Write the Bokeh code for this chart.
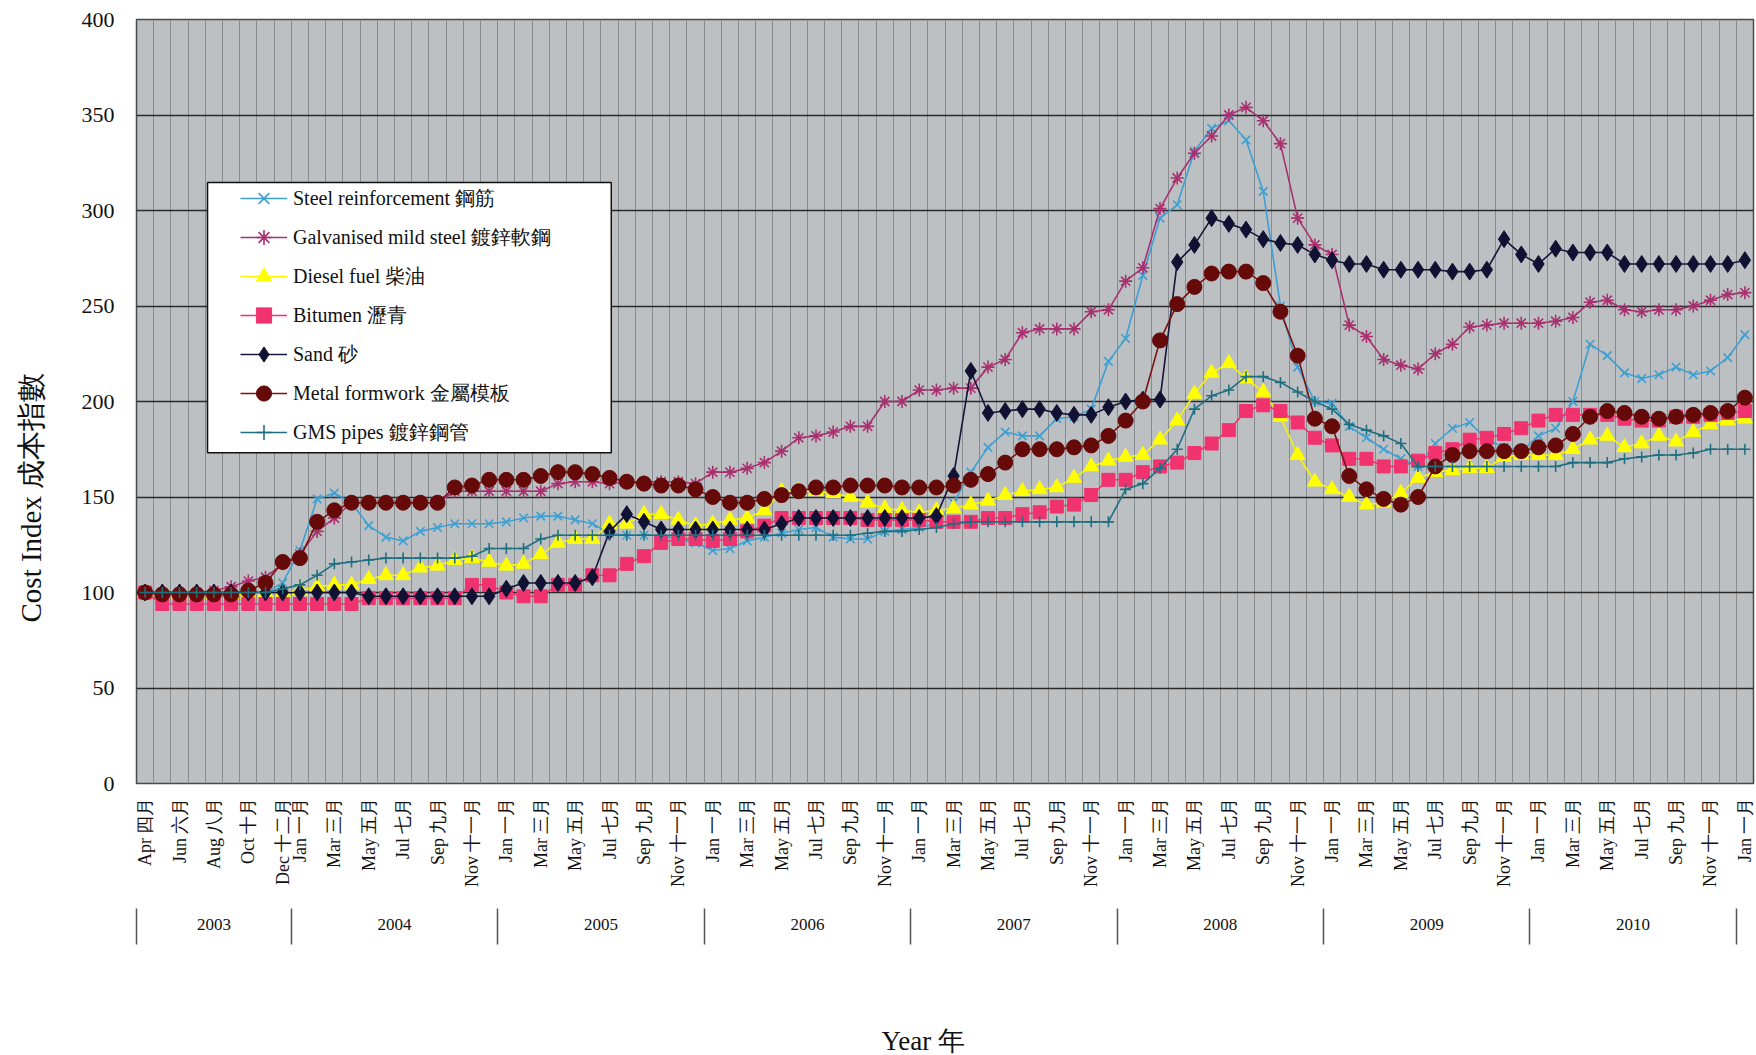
import math
from bokeh.plotting import figure
from bokeh.models import (Range1d, LinearAxis, FixedTicker, Legend, LegendItem,
                          BoxAnnotation, Title)
from bokeh.embed import file_html
from bokeh.resources import INLINE

# ---------------- data (monthly, Apr 2003 .. Jan 2011) ----------------
MONTH_EN = ["Jan", "Feb", "Mar", "Apr", "May", "Jun", "Jul", "Aug", "Sep", "Oct", "Nov", "Dec"]
MONTH_ZH = ["一月", "二月", "三月", "四月", "五月", "六月", "七月", "八月", "九月", "十月", "十一月", "十二月"]
START_MONTH = 3          # April
N_MONTHS = 94            # Apr 2003 .. Jan 2011
years = ["2003", "2004", "2005", "2006", "2007", "2008", "2009", "2010"]

steel = [100, 100, 100, 100, 100, 100, 100, 100, 105, 122,
         149, 152, 147, 135, 129, 127, 132, 134, 136, 136,
         136, 137, 139, 140, 140, 138, 136, 131, 130, 130,
         130, 128, 126, 122, 123, 127, 129, 131, 133, 134,
         129, 128, 128, 132, 133, 134, 136, 147, 163, 176,
         184, 182, 182, 191, 192, 196, 221, 233, 266, 296,
         303, 331, 343, 347, 337, 310, 250, 218, 200, 199,
         187, 181, 175, 170, 166, 178, 186, 189, 180, 176,
         174, 182, 186, 200, 230, 224, 215, 212, 214, 218,
         214, 216, 223, 235]
galvanised = [100, 100, 100, 100, 101, 103, 106, 108, 115, 120,
              132, 139, 147, 147, 147, 147, 147, 147, 153, 153,
              153, 153, 153, 153, 157, 158, 158, 157, 158, 158,
              158, 158, 157, 163, 163, 165, 168, 174, 181, 182,
              184, 187, 187, 200, 200, 206, 206, 207, 207, 218,
              222, 236, 238, 238, 238, 247, 248, 263, 270, 301,
              317, 330, 339, 350, 354, 347, 335, 296, 282, 277,
              240, 234, 222, 219, 217, 225, 230, 239, 240, 241,
              241, 241, 242, 244, 252, 253, 248, 247, 248, 248,
              250, 253, 256, 257]
diesel = [100, 99, 99, 99, 99, 99, 99, 100, 100, 101,
          103, 104, 104, 107, 109, 109, 113, 114, 117, 118,
          116, 114, 115, 120, 126, 128, 128, 136, 136, 141,
          141, 138, 135, 136, 138, 139, 143, 153, 153, 153,
          152, 150, 147, 144, 143, 142, 143, 144, 146, 148,
          151, 153, 154, 155, 160, 166, 169, 171, 172, 180,
          190, 204, 215, 220, 212, 205, 192, 172, 158, 154,
          150, 146, 147, 152, 160, 163, 164, 165, 165, 171,
          172, 172, 172, 175, 180, 182, 176, 178, 182, 179,
          184, 188, 190, 191]
bitumen = [100, 94, 94, 94, 94, 94, 94, 94, 94, 94,
           94, 94, 94, 97, 97, 97, 97, 97, 97, 104,
           104, 100, 98, 98, 104, 104, 109, 109, 115, 119,
           126, 128, 128, 127, 128, 132, 135, 139, 139, 139,
           139, 139, 138, 138, 138, 138, 137, 137, 137, 139,
           139, 141, 142, 145, 146, 151, 159, 159, 163, 166,
           168, 173, 178, 185, 195, 198, 195, 189, 181, 177,
           170, 170, 166, 166, 169, 173, 175, 180, 181, 183,
           186, 190, 193, 193, 193, 193, 191, 190, 190, 192,
           192, 193, 194, 195]
sand = [100, 100, 100, 100, 100, 100, 100, 100, 100, 100,
        100, 100, 100, 98, 98, 98, 98, 98, 98, 98,
        98, 102, 105, 105, 105, 105, 108, 132, 141, 137,
        133, 133, 133, 133, 133, 133, 133, 136, 139, 139,
        139, 139, 139, 139, 139, 139, 140, 161, 216, 194,
        195, 196, 196, 194, 193, 193, 197, 200, 201, 201,
        273, 282, 296, 293, 290, 285, 283, 282, 277, 274,
        272, 272, 269, 269, 269, 269, 268, 268, 269, 285,
        277, 272, 280, 278, 278, 278, 272, 272, 272, 272,
        272, 272, 272, 274]
metal = [100, 99, 99, 99, 99, 99, 101, 105, 116, 118,
         137, 143, 147, 147, 147, 147, 147, 147, 155, 156,
         159, 159, 159, 161, 163, 163, 162, 160, 158, 157,
         156, 156, 154, 150, 147, 147, 149, 151, 153, 155,
         155, 156, 156, 156, 155, 155, 155, 156, 159, 162,
         168, 175, 175, 175, 176, 177, 182, 190, 200, 232,
         251, 260, 267, 268, 268, 262, 247, 224, 191, 187,
         161, 154, 149, 146, 150, 166, 172, 174, 174, 174,
         174, 176, 177, 183, 192, 195, 194, 192, 191, 192,
         193, 194, 195, 202]
gms = [100, 100, 100, 100, 100, 100, 100, 100, 102, 104,
       109, 115, 116, 117, 118, 118, 118, 118, 118, 119,
       123, 123, 123, 128, 130, 130, 130, 130, 130, 130,
       130, 130, 130, 130, 130, 130, 130, 130, 130, 130,
       130, 130, 131, 132, 132, 133, 134, 136, 137, 137,
       137, 137, 137, 137, 137, 137, 137, 154, 157, 165,
       175, 196, 203, 206, 213, 213, 210, 205, 200, 196,
       188, 185, 182, 178, 166, 166, 166, 166, 166, 166,
       166, 166, 166, 168, 168, 168, 170, 171, 172, 172,
       173, 175, 175, 175]

series_names = ["Steel reinforcement 鋼筋", "Galvanised mild steel 鍍鋅軟鋼", "Diesel fuel 柴油",
                "Bitumen 瀝青", "Sand 砂", "Metal formwork 金屬模板", "GMS pipes 鍍鋅鋼管"]
series_values = [steel, galvanised, diesel, bitumen, sand, metal, gms]

# ---------------- styles ----------------
styles = [
    dict(color="#3d9fd2", marker="x", size=12, fill="#3d9fd2"),
    dict(color="#a8306f", marker="asterisk", size=13, fill="#a8306f"),
    dict(color="#f5f500", marker="triangle", size=15, fill="#ffff00"),
    dict(color="#f0336f", marker="square", size=13, fill="#f0336f"),
    dict(color="#15153a", marker="diamond", size=17, fill="#111133"),
    dict(color="#7a1212", marker="circle", size=15, fill="#650909"),
    dict(color="#1f6f80", marker="cross", size=11, fill="#1f6f80"),
]

SERIF = "Liberation Serif"

x = list(range(N_MONTHS))

p = figure(width=1755, height=1055,
           x_range=Range1d(-0.5, N_MONTHS - 0.5), y_range=Range1d(0, 400),
           output_backend="svg", toolbar_location=None,
           min_border_left=136, min_border_right=2, min_border_top=19, min_border_bottom=267,
           background_fill_color="#bcc0c3", border_fill_color="white",
           outline_line_color="#4a4a4a", outline_line_width=1.5)
p.extra_x_ranges = {"years": Range1d(-1, 2 * N_MONTHS - 1)}

# month tick labels
label_idx = [0, 2, 4, 6, 8] + list(range(9, N_MONTHS, 2))
overrides = {}
for i in label_idx:
    m = (START_MONTH + i) % 12
    overrides[i] = MONTH_EN[m] + " " + MONTH_ZH[m]

xa = p.xaxis[0]
xa.ticker = FixedTicker(ticks=label_idx, minor_ticks=[])
xa.major_label_overrides = overrides
xa.major_label_orientation = math.pi / 2
xa.major_label_text_font = SERIF
xa.major_label_text_font_size = "18px"
xa.major_label_text_color = "#111111"
xa.major_label_standoff = 14
xa.major_tick_in = 0
xa.major_tick_out = 0
xa.minor_tick_in = 0
xa.minor_tick_out = 0
xa.axis_line_color = None

ya = p.yaxis[0]
ya.ticker = FixedTicker(ticks=list(range(0, 401, 50)), minor_ticks=[])
ya.major_label_text_font = SERIF
ya.major_label_text_font_size = "22px"
ya.major_label_text_color = "#111111"
ya.major_label_standoff = 22
ya.major_tick_in = 0
ya.major_tick_out = 0
ya.minor_tick_in = 0
ya.minor_tick_out = 0
ya.axis_line_color = None

# grids
p.xgrid.ticker = FixedTicker(ticks=[i + 0.5 for i in range(-1, N_MONTHS)])
p.xgrid.grid_line_color = "#878c90"
p.xgrid.grid_line_width = 1
p.ygrid.ticker = FixedTicker(ticks=list(range(50, 400, 50)))
p.ygrid.grid_line_color = "#2a2a2a"
p.ygrid.grid_line_width = 1.6

# year axis
year_centers = []
year_seps = [-1]
start = -1
for k, yname in enumerate(years):
    n = 9 if k == 0 else 12
    end = start + 2 * n
    year_centers.append((start + end) // 2)
    year_seps.append(end)
    start = end
yax = LinearAxis(x_range_name="years",
                 ticker=FixedTicker(ticks=year_centers, minor_ticks=year_seps),
                 major_label_overrides={c: yname for c, yname in zip(year_centers, years)},
                 axis_line_color=None, major_tick_in=0, major_tick_out=0,
                 minor_tick_in=-19, minor_tick_out=55,
                 minor_tick_line_color="#555555", minor_tick_line_width=1.5,
                 major_label_standoff=-26,
                 major_label_text_font=SERIF, major_label_text_font_size="17px",
                 major_label_text_color="#111111")
p.add_layout(yax, "below")

# x axis title: spacer then the title (slightly left of the frame centre, as in the original)
xspacer = Title(text="\u00a0", standoff=88, text_font=SERIF, text_font_size="1px",
                text_font_style="normal", text_color="white")
p.add_layout(xspacer, "below")
xtitle = Title(text="Year 年", align="left", offset=745, standoff=0,
               text_font=SERIF, text_font_size="27px", text_font_style="normal",
               text_color="#111111")
p.add_layout(xtitle, "below")

# series
items = []
for name, vals, st in zip(series_names, series_values, styles):
    rl = p.line(x, vals, line_color=st["color"], line_width=1.6)
    stroke_only = st["marker"] in ("x", "asterisk", "cross")
    rs = p.scatter(x, vals, marker=st["marker"], size=st["size"],
                   fill_color=st["fill"], line_color=st["color"] if stroke_only else st["fill"],
                   line_width=1.6 if stroke_only else 1)
    items.append(LegendItem(label=name, renderers=[rl, rs]))

# legend frame
box = BoxAnnotation(left=3.63, right=27.1, top=314.6, bottom=173.2,
                    fill_color="white", fill_alpha=1.0,
                    line_color="#111111", line_width=1.5, line_alpha=1.0)
p.add_layout(box)

legend = Legend(items=items, location=(104, 332), padding=0, spacing=1, margin=0,
                label_height=38, glyph_height=38, glyph_width=47, label_standoff=6,
                label_text_font=SERIF, label_text_font_size="20px", label_text_color="#111111",
                background_fill_alpha=0.0, border_line_alpha=0.0)
p.add_layout(legend)

# spacer between the y tick labels and the y title, then the y title
spacer = Title(text="\u00a0", standoff=0, text_font=SERIF, text_font_size="27px",
               text_font_style="normal", text_color="white")
p.add_layout(spacer, "left")
ytitle = Title(text="Cost Index 成本指數", align="left", offset=161, standoff=0,
               text_font=SERIF, text_font_size="29px", text_font_style="normal",
               text_color="#111111")
p.add_layout(ytitle, "left")

open("out.html", "w").write(file_html(p, INLINE))
